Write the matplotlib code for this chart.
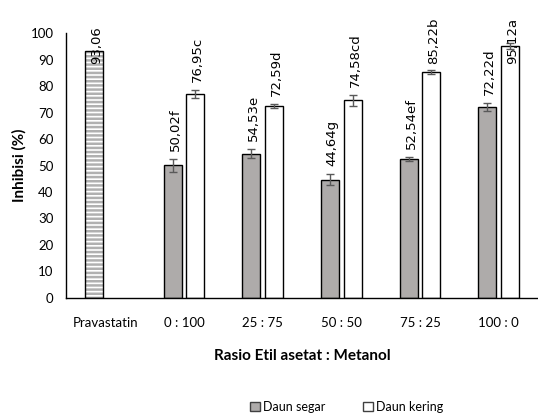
import numpy as np
import matplotlib
matplotlib.use("Agg")
import matplotlib.pyplot as plt
from matplotlib.patches import Patch

categories = ["Pravastatin", "0 : 100", "25 : 75", "50 : 50", "75 : 25", "100 : 0"]

prava_value = 93.06
prava_label = "93,06"

segar = [50.02, 54.53, 44.64, 52.54, 72.22]
segar_err = [2.5, 1.8, 2.0, 0.8, 1.5]
segar_labels = ["50,02f", "54,53e", "44,64g", "52,54ef", "72,22d"]

kering = [76.95, 72.59, 74.58, 85.22, 95.12]
kering_err = [1.5, 0.8, 2.2, 0.8, 1.0]
kering_labels = ["76,95c", "72,59d", "74,58cd", "85,22b", "95,12a"]

plt.rcParams["font.family"] = ["Lato", "DejaVu Sans"]
plt.rcParams["hatch.linewidth"] = 1.8

fig = plt.figure(figsize=(5.38, 4.19), dpi=100)
ax = fig.add_axes([0.1227, 0.289, 0.8773, 0.632])

w = 0.23
off = 0.145
x = np.arange(len(categories))
xs = x[1:] - off
xk = x[1:] + off

# pravastatin bar: striped fill + black outline
ax.bar(x[0] - off, prava_value, w, color="white", edgecolor="#B0B0B0",
       hatch="----", linewidth=0)
ax.bar(x[0] - off, prava_value, w, fill=False, edgecolor="black", linewidth=1.0)

ax.bar(xs, segar, w, color="#AEABAA", edgecolor="black", linewidth=1.0,
       yerr=segar_err, error_kw=dict(ecolor="#595959", capsize=3, elinewidth=1.0))
ax.bar(xk, kering, w, color="white", edgecolor="black", linewidth=1.0,
       yerr=kering_err, error_kw=dict(ecolor="#595959", capsize=3, elinewidth=1.0))


def label_y(v, e):
    return min(v + e + 3.0, 88.5)


ax.text(x[0] - off + 0.03, label_y(prava_value, 0), prava_label, rotation=90,
        ha="center", va="bottom", fontsize=9.5, family="DejaVu Sans", clip_on=False)
for xi, v, e, t in zip(xs, segar, segar_err, segar_labels):
    ax.text(xi + 0.03, label_y(v, e), t, rotation=90, ha="center", va="bottom",
            fontsize=9.5, family="DejaVu Sans", clip_on=False)
for xi, v, e, t in zip(xk, kering, kering_err, kering_labels):
    ax.text(xi + 0.03, label_y(v, e), t, rotation=90, ha="center", va="bottom",
            fontsize=9.5, family="DejaVu Sans", clip_on=False)

ax.set_xlim(-0.5, len(categories) - 0.5)
ax.set_ylim(0, 100)
ax.set_yticks(range(0, 101, 10))
ax.set_xticks(x)
ax.set_xticklabels(categories)
ax.tick_params(axis="both", length=0, labelsize=9.5)
ax.tick_params(axis="y", pad=9)
ax.tick_params(axis="x", pad=14)
for s in ["top", "right"]:
    ax.spines[s].set_visible(False)
ax.spines["left"].set_linewidth(1.0)
ax.spines["bottom"].set_linewidth(1.0)

ax.set_ylabel("Inhibisi (%)", fontsize=11, fontweight="bold", labelpad=3)
ax.set_xlabel("Rasio Etil asetat : Metanol", fontsize=11, fontweight="bold", labelpad=14)

handles = [Patch(facecolor="#AEABAA", edgecolor="#404040", label="Daun segar"),
           Patch(facecolor="white", edgecolor="#404040", label="Daun kering")]
fig.legend(handles=handles, loc="center", bbox_to_anchor=(0.645, 0.028), ncol=2,
           frameon=False, fontsize=9, handlelength=0.75, handleheight=0.75,
           handletextpad=0.3, columnspacing=3.0)

fig.savefig("out.png", dpi=100)
